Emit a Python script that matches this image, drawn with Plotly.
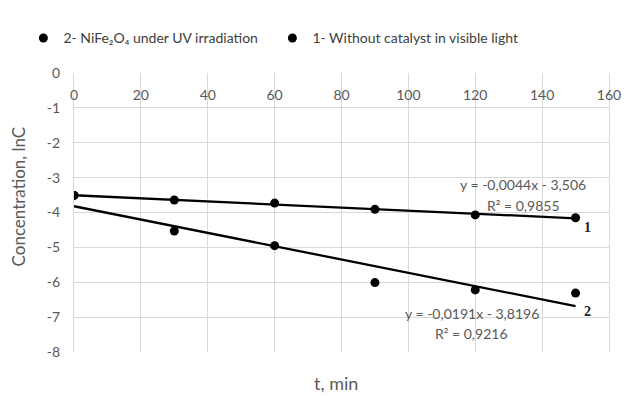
import plotly.graph_objects as go
import numpy as np

# ---- data ----
t_min = [0, 30, 60, 90, 120, 150]
lnC_no_catalyst = [-3.51, -3.64, -3.73, -3.91, -4.07, -4.15]      # series 1
lnC_nife2o4_uv = [-3.51, -4.53, -4.95, -6.01, -6.22, -6.31]       # series 2
series_names = ["2- NiFe\u2082O\u2084 under UV irradiation",
                "1- Without catalyst in visible light"]
trend_slopes = [-0.0044, -0.0191]        # series 1, series 2
trend_intercepts = [-3.506, -3.8196]
trend_eq_text = ["y = -0,0044x - 3,506", "y = -0,0191x - 3,8196"]
trend_r2_text = ["R\u00b2 = 0,9855", "R\u00b2 = 0,9216"]
x_ticks = [0, 20, 40, 60, 80, 100, 120, 140, 160]
y_ticks = [0, -1, -2, -3, -4, -5, -6, -7, -8]
y_ticktext = ["0", "-1", "-2", "-3", "-4", "-5", "-6", "-7", "-8"]

FONT = "Lato, 'Open Sans', sans-serif"
GRAY = "#595959"
GRID = "#d9d9d9"

fig = go.Figure()

# trend lines
t_arr = np.array([t_min[0], t_min[-1]], dtype=float)
for s, b in zip(trend_slopes, trend_intercepts):
    fig.add_trace(go.Scatter(x=t_arr, y=s * t_arr + b, mode="lines",
                             line=dict(color="black", width=2.3),
                             showlegend=False, hoverinfo="skip"))

fig.add_trace(go.Scatter(x=t_min, y=lnC_nife2o4_uv, mode="markers", name=series_names[0],
                         marker=dict(color="black", size=9)))
fig.add_trace(go.Scatter(x=t_min, y=lnC_no_catalyst, mode="markers", name=series_names[1],
                         marker=dict(color="black", size=9)))

anns = []
# equations
eq_pos = [(134.4, -3.21, -3.81), (119.0, -6.905, -7.48)]
for (ex, ey, ry), eq, r2 in zip(eq_pos, trend_eq_text, trend_r2_text):
    anns.append(dict(x=ex, y=ey, xref="x", yref="y", text=eq, showarrow=False,
                     font=dict(family=FONT, size=14, color=GRAY)))
    anns.append(dict(x=ex, y=ry, xref="x", yref="y", text=r2, showarrow=False,
                     font=dict(family=FONT, size=14, color=GRAY)))
# line labels 1 and 2
for lab, s, b, ysh in [("1", trend_slopes[0], trend_intercepts[0], -9),
                       ("2", trend_slopes[1], trend_intercepts[1], -5)]:
    anns.append(dict(x=t_min[-1], y=s * t_min[-1] + b, xref="x", yref="y",
                     text="<b>" + lab + "</b>",
                     showarrow=False, xshift=12, yshift=ysh,
                     font=dict(family="Liberation Serif, serif", size=14, color="#222222")))
# axis titles
anns.append(dict(x=(338 - 74) / 539, y=-(383 - 352) / 279, xref="paper", yref="paper",
                 text="t, min", showarrow=False, yanchor="middle",
                 font=dict(family=FONT, size=18, color=GRAY)))
anns.append(dict(x=-(74 - 18) / 539, y=(352 - 196) / 279, xref="paper", yref="paper",
                 text="Concentration, lnC", showarrow=False, textangle=-90,
                 xanchor="center", yanchor="middle",
                 font=dict(family=FONT, size=17, color=GRAY)))

fig.update_layout(
    width=633, height=396,
    margin=dict(l=74, r=20, t=73, b=44),
    paper_bgcolor="white", plot_bgcolor="white",
    font=dict(family=FONT, size=14, color=GRAY),
    annotations=anns,
    legend=dict(orientation="h", x=-0.0946, y=1.124, xanchor="left", yanchor="middle",
                font=dict(family=FONT, size=14, color="#404040"),
                entrywidth=204, entrywidthmode="pixels", itemwidth=30,
                bgcolor="rgba(0,0,0,0)"),
    xaxis=dict(range=[0, 160], tickvals=x_ticks, anchor="free", position=1, side="bottom",
               ticks="outside", ticklen=9, tickcolor="rgba(0,0,0,0)",
               showgrid=True, gridcolor=GRID, gridwidth=1,
               showline=False, zeroline=False,
               tickfont=dict(family=FONT, size=14, color=GRAY)),
    yaxis=dict(range=[-8, 0], tickvals=y_ticks, ticktext=y_ticktext,
               ticks="outside", ticklen=10, tickcolor="rgba(0,0,0,0)",
               showgrid=True, gridcolor=GRID, gridwidth=1,
               showline=True, linecolor=GRID, mirror=True, zeroline=False,
               tickfont=dict(family=FONT, size=14, color=GRAY)),
)

fig.write_html("out.html")
